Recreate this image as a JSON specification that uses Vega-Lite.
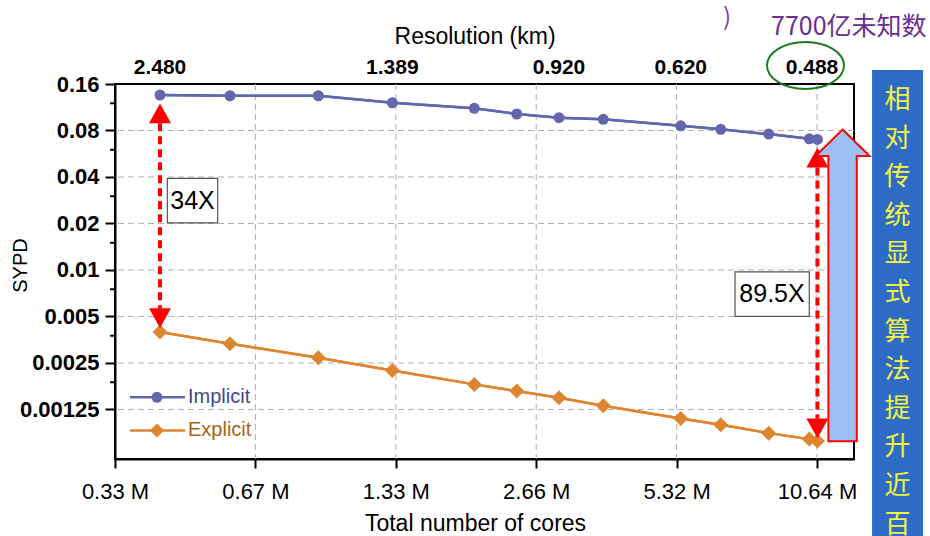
{
  "$schema": "https://vega.github.io/schema/vega-lite/v6.json",
  "width": 739,
  "height": 375,
  "autosize": {"type": "none"},
  "padding": {"left": 115, "top": 84, "right": 76, "bottom": 77},
  "background": "white",
  "config": {
    "view": {"stroke": "black", "strokeWidth": 2},
    "axis": {"labelFont": "Liberation Sans", "titleFont": "Liberation Sans", "domainColor": "black", "tickColor": "black", "labelColor": "black", "titleColor": "black", "titleFontWeight": "normal"}
  },
  "datasets": {
    "perf": [
      {"series": "Implicit", "cores": 0.4152, "sypd": 0.1358},
      {"series": "Implicit", "cores": 0.5866, "sypd": 0.1343},
      {"series": "Implicit", "cores": 0.9073, "sypd": 0.1343},
      {"series": "Implicit", "cores": 1.3074, "sypd": 0.1210},
      {"series": "Implicit", "cores": 1.9594, "sypd": 0.1113},
      {"series": "Implicit", "cores": 2.416, "sypd": 0.1023},
      {"series": "Implicit", "cores": 2.977, "sypd": 0.0968},
      {"series": "Implicit", "cores": 3.704, "sypd": 0.0945},
      {"series": "Implicit", "cores": 5.429, "sypd": 0.0858},
      {"series": "Implicit", "cores": 6.614, "sypd": 0.0814},
      {"series": "Implicit", "cores": 8.382, "sypd": 0.0758},
      {"series": "Implicit", "cores": 10.24, "sypd": 0.0707},
      {"series": "Implicit", "cores": 10.66, "sypd": 0.0700},
      {"series": "Explicit", "cores": 0.4152, "sypd": 0.00396},
      {"series": "Explicit", "cores": 0.5866, "sypd": 0.003333},
      {"series": "Explicit", "cores": 0.9073, "sypd": 0.002704},
      {"series": "Explicit", "cores": 1.3074, "sypd": 0.002235},
      {"series": "Explicit", "cores": 1.9594, "sypd": 0.001816},
      {"series": "Explicit", "cores": 2.416, "sypd": 0.001643},
      {"series": "Explicit", "cores": 2.977, "sypd": 0.001489},
      {"series": "Explicit", "cores": 3.704, "sypd": 0.001322},
      {"series": "Explicit", "cores": 5.429, "sypd": 0.001093},
      {"series": "Explicit", "cores": 6.614, "sypd": 0.000996},
      {"series": "Explicit", "cores": 8.382, "sypd": 0.000878},
      {"series": "Explicit", "cores": 10.24, "sypd": 0.000803},
      {"series": "Explicit", "cores": 10.66, "sypd": 0.000782}
    ],
    "legendRows": [
      {"series": "Implicit", "x1": 0.3581, "x2": 0.4698, "xm": 0.4091, "xt": 0.4768, "y": 0.0014966},
      {"series": "Explicit", "x1": 0.3581, "x2": 0.4698, "xm": 0.4091, "xt": 0.4768, "y": 0.0009138}
    ],
    "xgrid": [{"v": 0.665}, {"v": 1.33}, {"v": 2.66}, {"v": 5.32}, {"v": 10.64}],
    "ygrid": [{"v": 0.08}, {"v": 0.04}, {"v": 0.02}, {"v": 0.01}, {"v": 0.005}, {"v": 0.0025}, {"v": 0.00125}],
    "yminor": [
      {"a": 0.3245, "b": 0.3325, "v": 0.12}, {"a": 0.3245, "b": 0.3325, "v": 0.06}, {"a": 0.3245, "b": 0.3325, "v": 0.03},
      {"a": 0.3245, "b": 0.3325, "v": 0.015}, {"a": 0.3245, "b": 0.3325, "v": 0.0075}, {"a": 0.3245, "b": 0.3325, "v": 0.00375},
      {"a": 0.3245, "b": 0.3325, "v": 0.001875}
    ],
    "resolution": [
      {"cores": 0.4152, "sypd": 0.2032, "text": "2.480"},
      {"cores": 1.3074, "sypd": 0.2032, "text": "1.389"},
      {"cores": 2.977, "sypd": 0.2032, "text": "0.920"},
      {"cores": 5.429, "sypd": 0.2032, "text": "0.620"},
      {"cores": 10.38, "sypd": 0.2032, "text": "0.488"}
    ],
    "resTitle": [{"cores": 1.9665, "sypd": 0.3227, "text": "Resolution (km)"}],
    "arrows": [
      {"cores": 0.4152, "top": 0.0890, "bottom": 0.005652},
      {"cores": 10.66, "top": 0.04612, "bottom": 0.0010934}
    ],
    "boxes": [
      {"x1": 0.4305, "x2": 0.5521, "y1": 0.03912, "y2": 0.02019, "tx": 0.4875, "ty": 0.02811, "label": "34X"},
      {"x1": 7.098, "x2": 10.24, "y1": 0.009731, "y2": 0.005011, "tx": 8.519, "ty": 0.00696, "label": "89.5X"}
    ],
    "bigarrow": [{"cores": 12.07, "sypd": 0.007946}],
    "ellipse": [{"cores": 10.05, "sypd": 0.2109}],
    "panel": [{"x1": 13.96, "x2": 17.96, "y1": 0.1972, "y2": 0.00015}],
    "panelText": [{"cores": 15.83, "sypd": 0.126, "text": "相\n对\n传\n统\n显\n式\n算\n法\n提\n升\n近\n百"}],
    "notes": [
      {"cores": 12.45, "sypd": 0.3747, "text": "7700亿未知数", "kind": "main"},
      {"cores": 6.823, "sypd": 0.4286, "text": ")", "kind": "paren"}
    ]
  },
  "encoding": {
    "x": {"type": "quantitative", "scale": {"type": "log", "domain": [0.3325, 12.77], "nice": false}},
    "y": {"type": "quantitative", "scale": {"type": "log", "domain": [0.000597, 0.16], "nice": false}}
  },
  "layer": [
    {
      "data": {"name": "perf"},
      "mark": {"type": "line", "strokeWidth": 2.5},
      "encoding": {
        "x": {"field": "cores", "type": "quantitative",
          "axis": {"orient": "bottom", "values": [0.3325, 0.665, 1.33, 2.66, 5.32, 10.64], "labelExpr": "format(datum.value, '.2f') + ' M'", "labelFlush": false, "labelOverlap": false, "grid": false,
            "tickSize": 9, "tickWidth": 2, "domainWidth": 2, "labelFontSize": 22, "labelPadding": 13, "title": "Total number of cores", "titleFontSize": 23, "titleX": 360, "titleY": 64, "titleBaseline": "middle"}},
        "y": {"field": "sypd", "type": "quantitative",
          "axis": {"orient": "left", "values": [0.16, 0.08, 0.04, 0.02, 0.01, 0.005, 0.0025, 0.00125],
            "labelExpr": "'' + datum.value",
            "tickSize": 10, "grid": false, "labelOverlap": false, "labelFontSize": 22, "labelFontWeight": "bold", "labelPadding": 6, "domainWidth": 2, "tickWidth": 2,
            "title": "SYPD", "titleFontSize": 20, "titleX": -95, "titleY": 181, "titleBaseline": "middle", "titleAlign": "center"}},
        "color": {"field": "series", "type": "nominal", "scale": {"domain": ["Implicit", "Explicit"], "range": ["#6366ad", "#df8530"]}, "legend": null},
        "detail": {"field": "series"}
      }
    },
    {
      "data": {"name": "xgrid"},
      "mark": {"type": "rule", "color": "#b0b0b0", "strokeWidth": 1, "strokeDash": [6, 4]},
      "encoding": {"x": {"field": "v", "type": "quantitative"}}
    },
    {
      "data": {"name": "ygrid"},
      "mark": {"type": "rule", "color": "#b0b0b0", "strokeWidth": 1, "strokeDash": [6, 4]},
      "encoding": {"y": {"field": "v", "type": "quantitative"}}
    },
    {
      "data": {"name": "yminor"},
      "mark": {"type": "rule", "color": "black", "strokeWidth": 2},
      "encoding": {
        "x": {"field": "a", "type": "quantitative"},
        "x2": {"field": "b"},
        "y": {"field": "v", "type": "quantitative"}
      }
    },
    {
      "data": {"name": "perf"},
      "mark": {"type": "line", "strokeWidth": 2.5},
      "encoding": {
        "x": {"field": "cores", "type": "quantitative"},
        "y": {"field": "sypd", "type": "quantitative"},
        "color": {"field": "series", "type": "nominal", "scale": {"domain": ["Implicit", "Explicit"], "range": ["#6366ad", "#df8530"]}, "legend": null},
        "detail": {"field": "series"}
      }
    },
    {
      "data": {"name": "perf"},
      "mark": {"type": "point", "filled": true, "opacity": 1},
      "encoding": {
        "x": {"field": "cores", "type": "quantitative"},
        "y": {"field": "sypd", "type": "quantitative"},
        "color": {"field": "series", "type": "nominal", "scale": {"domain": ["Implicit", "Explicit"], "range": ["#6366ad", "#df8530"]}, "legend": null},
        "shape": {"field": "series", "type": "nominal", "scale": {"domain": ["Implicit", "Explicit"], "range": ["circle", "diamond"]}, "legend": null},
        "size": {"condition": {"test": "datum.series === 'Implicit'", "value": 121}, "value": 225}
      }
    },
    {
      "data": {"name": "legendRows"},
      "mark": {"type": "rule", "strokeWidth": 2.5},
      "encoding": {
        "x": {"field": "x1", "type": "quantitative"},
        "x2": {"field": "x2"},
        "y": {"field": "y", "type": "quantitative"},
        "color": {"field": "series", "type": "nominal", "scale": {"domain": ["Implicit", "Explicit"], "range": ["#6366ad", "#df8530"]}, "legend": null}
      }
    },
    {
      "data": {"name": "legendRows"},
      "mark": {"type": "point", "filled": true, "opacity": 1},
      "encoding": {
        "x": {"field": "xm", "type": "quantitative"},
        "y": {"field": "y", "type": "quantitative"},
        "color": {"field": "series", "type": "nominal", "scale": {"domain": ["Implicit", "Explicit"], "range": ["#6366ad", "#df8530"]}, "legend": null},
        "shape": {"field": "series", "type": "nominal", "scale": {"domain": ["Implicit", "Explicit"], "range": ["circle", "diamond"]}, "legend": null},
        "size": {"condition": {"test": "datum.series === 'Implicit'", "value": 121}, "value": 200}
      }
    },
    {
      "data": {"name": "legendRows"},
      "mark": {"type": "text", "font": "Liberation Sans", "fontSize": 20, "align": "left", "baseline": "middle"},
      "encoding": {
        "x": {"field": "xt", "type": "quantitative"},
        "y": {"field": "y", "type": "quantitative"},
        "text": {"field": "series"},
        "color": {"condition": {"test": "datum.series === 'Implicit'", "value": "#45468f"}, "value": "#a9621c"}
      }
    },
    {
      "data": {"name": "arrows"},
      "mark": {"type": "rule", "color": "#ff0000", "strokeWidth": 4, "strokeDash": [8, 5]},
      "encoding": {
        "x": {"field": "cores", "type": "quantitative"},
        "y": {"field": "top", "type": "quantitative"},
        "y2": {"field": "bottom"}
      }
    },
    {
      "data": {"name": "arrows"},
      "mark": {"type": "point", "shape": "M0,-1.8L1,0L-1,0Z", "size": 484, "filled": true, "fill": "#ff0000", "strokeWidth": 0, "opacity": 1},
      "encoding": {
        "x": {"field": "cores", "type": "quantitative"},
        "y": {"field": "top", "type": "quantitative"}
      }
    },
    {
      "data": {"name": "arrows"},
      "mark": {"type": "point", "shape": "M0,1.8L1,0L-1,0Z", "size": 484, "filled": true, "fill": "#ff0000", "strokeWidth": 0, "opacity": 1},
      "encoding": {
        "x": {"field": "cores", "type": "quantitative"},
        "y": {"field": "bottom", "type": "quantitative"}
      }
    },
    {
      "data": {"name": "boxes"},
      "mark": {"type": "rect", "fill": "white", "stroke": "#555555", "strokeWidth": 1.2},
      "encoding": {
        "x": {"field": "x1", "type": "quantitative"},
        "x2": {"field": "x2"},
        "y": {"field": "y1", "type": "quantitative"},
        "y2": {"field": "y2"}
      }
    },
    {
      "data": {"name": "boxes"},
      "mark": {"type": "text", "font": "Liberation Sans", "fontSize": 25, "color": "black", "align": "center", "baseline": "middle"},
      "encoding": {
        "x": {"field": "tx", "type": "quantitative"},
        "y": {"field": "ty", "type": "quantitative"},
        "text": {"field": "label"}
      }
    },
    {
      "data": {"name": "bigarrow"},
      "mark": {"type": "point", "shape": "M0,-7.79L1.35,-6.47L0.71,-6.47L0.71,7.79L-0.71,7.79L-0.71,-6.47L-1.35,-6.47Z", "size": 1600, "filled": true, "fill": "#9dbff3", "stroke": "#ff0000", "strokeWidth": 2, "opacity": 1},
      "encoding": {
        "x": {"field": "cores", "type": "quantitative"},
        "y": {"field": "sypd", "type": "quantitative"}
      }
    },
    {
      "data": {"name": "ellipse"},
      "mark": {"type": "point", "shape": "M-1.925,0A1.925,1.175 0 1,0 1.925,0A1.925,1.175 0 1,0 -1.925,0Z", "size": 1600, "filled": false, "stroke": "#1b7d1b", "strokeWidth": 2, "opacity": 1},
      "encoding": {
        "x": {"field": "cores", "type": "quantitative"},
        "y": {"field": "sypd", "type": "quantitative"}
      }
    },
    {
      "data": {"name": "panel"},
      "mark": {"type": "rect", "fill": "#2d6bc7"},
      "encoding": {
        "x": {"field": "x1", "type": "quantitative"},
        "x2": {"field": "x2"},
        "y": {"field": "y1", "type": "quantitative"},
        "y2": {"field": "y2"}
      }
    },
    {
      "data": {"name": "panelText"},
      "mark": {"type": "text", "font": "Noto Sans CJK SC", "fontSize": 26, "color": "#f5f53b", "align": "center", "baseline": "middle", "lineBreak": "\n", "lineHeight": 38.6},
      "encoding": {
        "x": {"field": "cores", "type": "quantitative"},
        "y": {"field": "sypd", "type": "quantitative"},
        "text": {"field": "text"}
      }
    },
    {
      "data": {"name": "notes"},
      "mark": {"type": "text", "font": "Noto Sans CJK SC", "align": "center", "baseline": "middle"},
      "encoding": {
        "x": {"field": "cores", "type": "quantitative"},
        "y": {"field": "sypd", "type": "quantitative"},
        "text": {"field": "text"},
        "color": {"condition": {"test": "datum.kind === 'paren'", "value": "#7b3db5"}, "value": "#6a2b92"},
        "size": {"condition": {"test": "datum.kind === 'paren'", "value": 24}, "value": 25}
      }
    },
    {
      "data": {"name": "resolution"},
      "mark": {"type": "text", "font": "Liberation Sans", "fontSize": 21, "fontWeight": "bold", "color": "black", "align": "center", "baseline": "middle"},
      "encoding": {
        "x": {"field": "cores", "type": "quantitative"},
        "y": {"field": "sypd", "type": "quantitative"},
        "text": {"field": "text"}
      }
    },
    {
      "data": {"name": "resTitle"},
      "mark": {"type": "text", "font": "Liberation Sans", "fontSize": 23, "color": "black", "align": "center", "baseline": "middle"},
      "encoding": {
        "x": {"field": "cores", "type": "quantitative"},
        "y": {"field": "sypd", "type": "quantitative"},
        "text": {"field": "text"}
      }
    }
  ]
}
